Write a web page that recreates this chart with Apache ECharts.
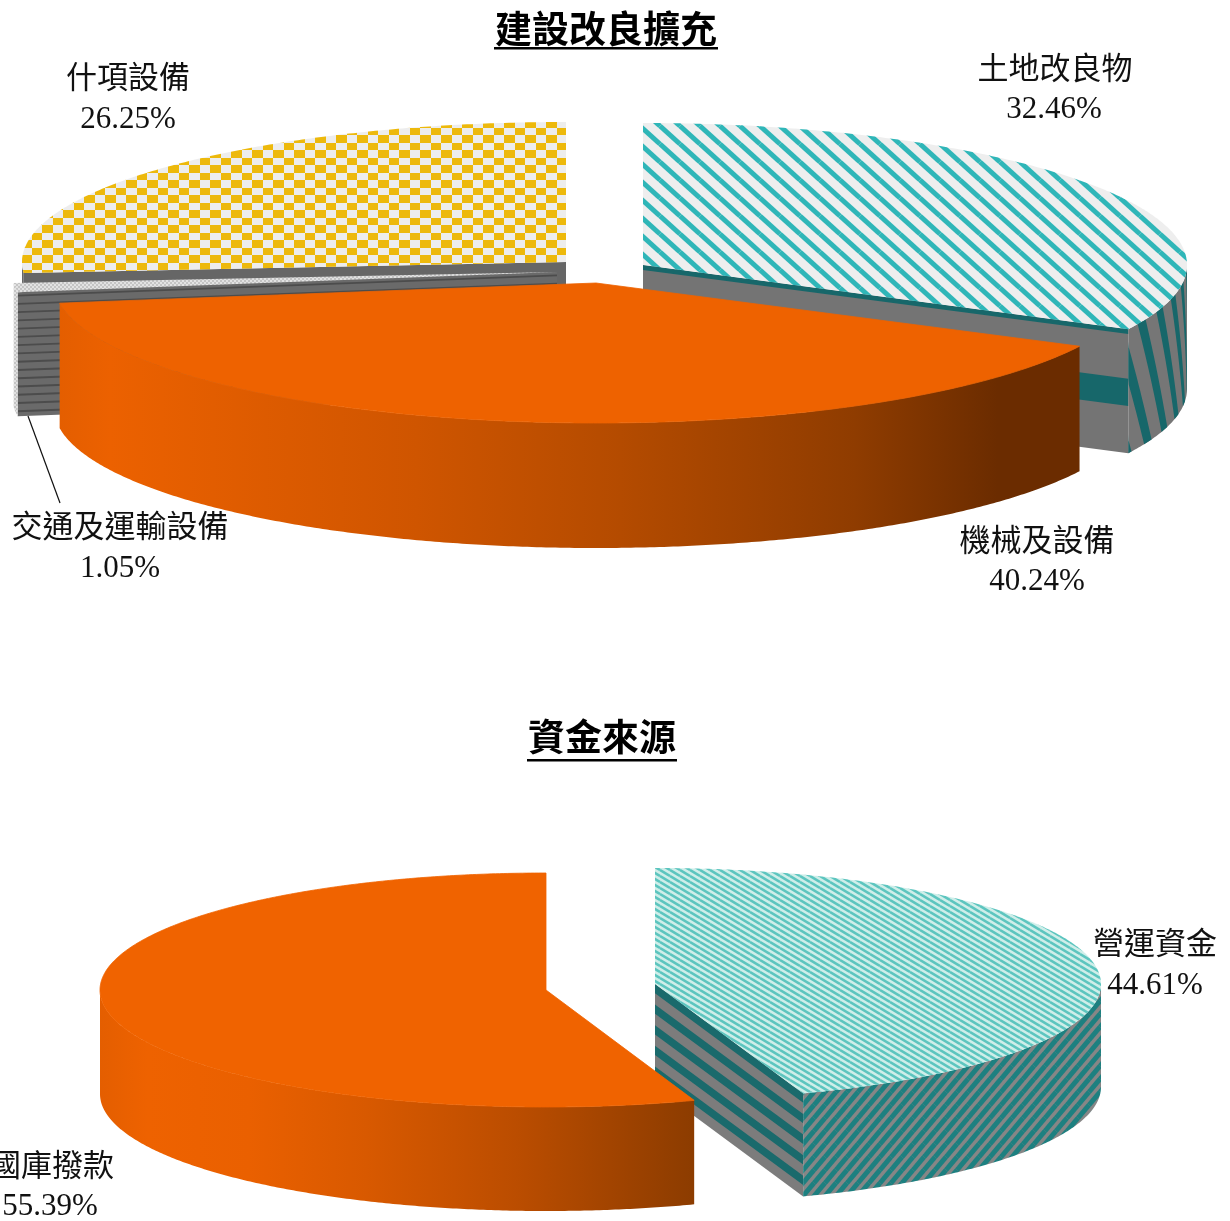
<!DOCTYPE html>
<html><head><meta charset="utf-8">
<script src="https://cdn.jsdelivr.net/npm/echarts@6/dist/echarts.min.js"></script>
<style>html,body{margin:0;padding:0;background:#fff}#c{width:1230px;height:1221px}</style>
</head><body><div id="c"></div>
<script>
const titleA = '建設改良擴充';
const titleB = '資金來源';
const categoriesA = ['土地改良物', '機械及設備', '交通及運輸設備', '什項設備'];
const valuesA = [32.46, 40.24, 1.05, 26.25];
const categoriesB = ['營運資金', '國庫撥款'];
const valuesB = [44.61, 55.39];

const CJK = '"Noto Sans CJK TC"';
const NUM = '"Liberation Serif"';

function tile(w, h, draw) {
  const c = document.createElement('canvas'); c.width = w; c.height = h;
  draw(c.getContext('2d'), w, h);
  return { image: c, repeat: 'repeat' };
}
function stripes(w, h, bg, fg, lw, down) {
  return tile(w, h, (g) => {
    g.fillStyle = bg; g.fillRect(0, 0, w, h);
    g.strokeStyle = fg; g.lineWidth = lw;
    for (let i = -2; i <= 2; i++) for (let j = -2; j <= 2; j++) {
      g.beginPath();
      if (down) { g.moveTo(i * w, j * h); g.lineTo(i * w + w, j * h + h); }
      else { g.moveTo(i * w, j * h + h); g.lineTo(i * w + w, j * h); }
      g.stroke();
    }
  });
}
const checker = tile(21, 15, (g) => {
  g.fillStyle = '#ededed'; g.fillRect(0, 0, 21, 15);
  g.fillStyle = '#edb90c';
  g.fillRect(0, 0, 11, 8); g.fillRect(11, 8, 10, 7);
});
const dotted = tile(4, 4, (g) => {
  g.fillStyle = '#e2e2e2'; g.fillRect(0, 0, 4, 4);
  g.fillStyle = '#c4c4c4'; g.fillRect(0, 0, 2, 2); g.fillRect(2, 2, 2, 2);
});
const hatchWide = stripes(20, 18, '#eeeeee', '#2fb6b8', 5, true);
const hatchFine = stripes(10, 6, '#cfeee9', '#5cc5bf', 2.6, true);
const wallFine = stripes(11, 13, '#868686', '#1d8080', 5, false);

function grad(stops) {
  return { type: 'linear', x: 0, y: 0, x2: 1, y2: 0, colorStops: stops.map(s => ({ offset: s[0], color: s[1] })) };
}

const layoutA = [
  { cx: 643, cy: 265, rx: 544, ry: 142, depth: 124, rank: 3, top: hatchWide, wall: '#767676', faceAt: 'end', face: '#747474',
    faceBands: [[0, 0.04, '#17676a'], [0.40, 0.62, '#17676a']],
    wallStripes: { from: 86, to: 125, period: 5.3, width: 2.1, skew: 7, color: '#17676a' },
    name: [1055, 67], pct: [1054, 110] },
  { cx: 596, cy: 283, rx: 542, ry: 140, depth: 125, rank: 4, top: '#ee6200', solid: true,
    wall: grad([[0, '#e45e00'], [0.05, '#ec6100'], [0.15, '#e25d00'], [0.35, '#cf5500'], [0.55, '#b44b00'], [0.78, '#8f3c00'], [0.92, '#6b2c00'], [1, '#6b2c00']]),
    name: [1037, 539], pct: [1037, 582] },
  { cx: 557, cy: 272, rx: 545, ry: 140, depth: 124, rank: 2, top: dotted, wall: dotted, faceAt: 'start', face: '#6a6a6a',
    faceBands: [...Array(15).keys()].map(i => [i / 15 + 0.02, i / 15 + 0.035, '#4c4c4c']),
    name: [120, 525], pct: [120, 569] },
  { cx: 566, cy: 262, rx: 544, ry: 140, depth: 124, rank: 1, top: checker, wall: '#666666', faceAt: 'start', face: '#666666',
    name: [128, 76], pct: [128, 120] }
];
const layoutB = [
  { cx: 655, cy: 984, rx: 446, ry: 116, depth: 103, rank: 5, top: hatchFine, wall: wallFine, faceAt: 'end', face: '#7c7c7c',
    faceBands: [0, 1, 2, 3, 4].map(i => [i * 0.2, i * 0.2 + 0.09, '#1a6a6c']),
    name: [1155, 942], pct: [1155, 986] },
  { cx: 546, cy: 990, rx: 446, ry: 117, depth: 104, rank: 6, top: '#f06300', solid: true,
    wall: grad([[0, '#e45e00'], [0.08, '#ee6200'], [0.25, '#ea6000'], [0.45, '#d85900'], [0.7, '#bb4d00'], [1, '#8c3c00']]),
    name: [52, 1164], pct: [50, 1207] }
];

const RAD = Math.PI / 180;
function pt(l, deg, z) {
  return [l.cx + l.rx * Math.sin(deg * RAD), l.cy - l.ry * Math.cos(deg * RAD) + (z || 0) * l.depth];
}
function arc(l, a, b, z) {
  const out = [], n = Math.max(2, Math.ceil(Math.abs(b - a) / 0.5));
  for (let i = 0; i <= n; i++) out.push(pt(l, a + (b - a) * i / n, z));
  return out;
}
function poly(points, fill, z2, stroke) {
  return { type: 'polygon', shape: { points }, style: { fill, stroke: stroke || null, lineWidth: stroke ? 0.8 : 0 }, z2, silent: true };
}
function drawSlice(l, a, b, name, value) {
  const kids = [], z = l.rank * 10;
  // flat side of the cut
  if (l.faceAt) {
    const e = l.faceAt === 'end' ? b : a;
    const base = [l.cx, l.cy], rim = pt(l, e, 0);
    const band = (z0, z1, fill, zz) => poly([
      [base[0], base[1] + z0 * l.depth], [rim[0], rim[1] + z0 * l.depth],
      [rim[0], rim[1] + z1 * l.depth], [base[0], base[1] + z1 * l.depth]], fill, zz);
    kids.push(band(0, 1, l.face, z));
    (l.faceBands || []).forEach(s => kids.push(band(s[0], Math.min(s[1], 1), s[2], z + 1)));
  }
  // curved outer wall: only the part turned to the viewer
  const w0 = Math.max(a, 90), w1 = Math.min(b, 270);
  if (w1 > w0) {
    kids.push(poly(arc(l, w0, w1, 0).concat(arc(l, w1, w0, 1)), l.wall, z + 2));
    if (l.wallStripes) {
      const s = l.wallStripes;
      const clamp = v => Math.min(w1, Math.max(w0, v));
      for (let t = s.from; t < s.to; t += s.period) {
        const e1 = [], e2 = [];
        for (let i = 0; i <= 20; i++) {
          const zz = i / 20;
          e1.push(pt(l, clamp(t - s.skew * zz), zz));
          e2.unshift(pt(l, clamp(t + s.width - s.skew * zz), zz));
        }
        kids.push(poly(e1.concat(e2), s.color, z + 3));
      }
    }
  }
  // top surface
  kids.push(poly([[l.cx, l.cy]].concat(arc(l, a, b, 0)), l.top, z + 4, l.solid ? l.top : null));
  const txt = (p, text, family, size) => ({
    type: 'text', x: p[0], y: p[1], z2: 200, silent: true,
    style: { text, fontFamily: family, fontSize: size, fill: '#111', align: 'center', verticalAlign: 'middle' }
  });
  kids.push(txt(l.name, name, CJK, 31));
  kids.push(txt(l.pct, value.toFixed(2) + '%', NUM, 31));
  return { type: 'group', children: kids };
}
function pieSeries(cats, vals, layout) {
  const total = vals.reduce((s, v) => s + v, 0);
  const start = []; let run = 0;
  vals.forEach(v => { start.push(run / total * 360); run += v; });
  return {
    type: 'custom', coordinateSystem: 'none', silent: true, animation: false,
    data: vals.map((v, i) => ({ name: cats[i], value: [v] })),
    renderItem(params, api) {
      const i = params.dataIndex, v = api.value(0);
      return drawSlice(layout[i], start[i], start[i] + v / total * 360, cats[i], v);
    }
  };
}
const titleStyle = { fontFamily: CJK, fontSize: 37, fontWeight: 'bold', color: '#000' };
const chart = echarts.init(document.getElementById('c'), null, { renderer: 'canvas', width: 1230, height: 1221 });
chart.setOption({
  animation: false,
  backgroundColor: '#fff',
  title: [
    { text: titleA, left: 601, top: 24, textAlign: 'center', textVerticalAlign: 'middle', textStyle: titleStyle },
    { text: titleB, left: 597, top: 732, textAlign: 'center', textVerticalAlign: 'middle', textStyle: titleStyle }
  ],
  graphic: [
    { type: 'rect', shape: { x: 494, y: 47, width: 224, height: 2.4 }, style: { fill: '#000' }, silent: true },
    { type: 'rect', shape: { x: 527, y: 759, width: 150, height: 2.4 }, style: { fill: '#000' }, silent: true },
    { type: 'line', shape: { x1: 28, y1: 416, x2: 60, y2: 503 }, style: { stroke: '#111', lineWidth: 1.2 }, z: 10, silent: true }
  ],
  series: [pieSeries(categoriesA, valuesA, layoutA), pieSeries(categoriesB, valuesB, layoutB)]
});
</script></body></html>
